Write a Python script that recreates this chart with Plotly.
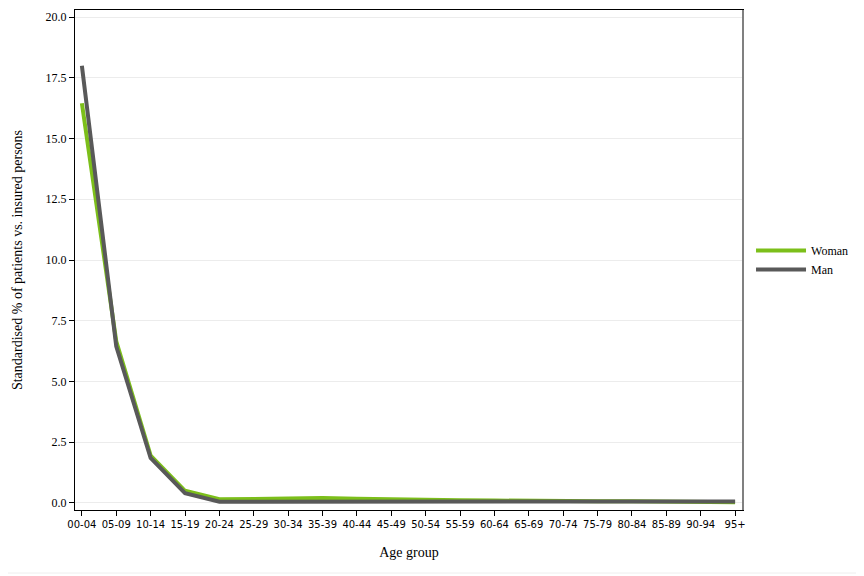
import plotly.graph_objects as go

categories = ["00-04", "05-09", "10-14", "15-19", "20-24", "25-29", "30-34", "35-39", "40-44",
              "45-49", "50-54", "55-59", "60-64", "65-69", "70-74", "75-79", "80-84",
              "85-89", "90-94", "95+"]
woman = [16.45, 6.65, 1.95, 0.50, 0.15, 0.18, 0.20, 0.20, 0.17, 0.14, 0.12, 0.11, 0.10, 0.08,
         0.08, 0.07, 0.07, 0.06, 0.05, 0.03]
man = [18.0, 6.45, 1.85, 0.40, 0.05, 0.05, 0.07, 0.07, 0.06, 0.05, 0.04, 0.04, 0.04, 0.05,
       0.05, 0.05, 0.05, 0.04, 0.04, 0.06]
y_ticks = [0, 2.5, 5, 7.5, 10, 12.5, 15, 17.5, 20]
y_ticktext = ["0.0", "2.5", "5.0", "7.5", "10.0", "12.5", "15.0", "17.5", "20.0"]

fig = go.Figure()
fig.add_trace(go.Scatter(x=categories, y=woman, mode="lines", name="Woman",
                         line=dict(color="#7CBF1A", width=4)))
fig.add_trace(go.Scatter(x=categories, y=man, mode="lines", name="Man",
                         line=dict(color="#595959", width=4)))

n = len(categories)
fig.update_layout(
    width=856, height=568,
    margin=dict(l=67, r=121, t=2, b=66, autoexpand=False),
    paper_bgcolor="white", plot_bgcolor="white",
    font=dict(family="Liberation Serif", size=12, color="black"),
    legend=dict(x=1.012, y=0.5, yanchor="middle", xanchor="left", itemwidth=50,
                font=dict(family="Liberation Serif", size=12), tracegroupgap=0),
    xaxis=dict(
        title=dict(text="Age group", font=dict(family="Liberation Serif", size=14), standoff=18),
        type="category", range=[-0.2, n - 1 + 0.23], automargin=False,
        showline=True, linecolor="black", linewidth=1, mirror=True,
        ticks="outside", ticklen=5, tickcolor="black",
        tickfont=dict(family="DejaVu Sans", size=10), showgrid=False, tickangle=0,
    ),
    yaxis=dict(
        title=dict(text="Standardised % of patients vs. insured persons",
                   font=dict(family="Liberation Serif", size=14), standoff=19),
        range=[-0.29, 20.29], tickmode="array", automargin=False,
        tickvals=y_ticks, ticktext=y_ticktext,
        showline=True, linecolor="black", linewidth=1, mirror=True,
        ticks="outside", ticklen=5, tickcolor="black",
        showgrid=True, gridcolor="#ECECEC", gridwidth=1, zeroline=False,
        tickfont=dict(family="Liberation Serif", size=12),
    ),
)
fig.add_shape(type="line", xref="paper", yref="paper", x0=1, x1=1, y0=0, y1=1,
              line=dict(color="#808080", width=2))
fig.add_shape(type="line", xref="paper", yref="paper", x0=1.1766, x1=1.1766, y0=-0.126, y1=1.02,
              line=dict(color="#EEEEEE", width=1), layer="below")
fig.add_shape(type="line", xref="paper", yref="paper", x0=-0.12, x1=1.1766, y0=-0.126, y1=-0.126,
              line=dict(color="#EEEEEE", width=1), layer="below")
fig.write_html("out.html")
